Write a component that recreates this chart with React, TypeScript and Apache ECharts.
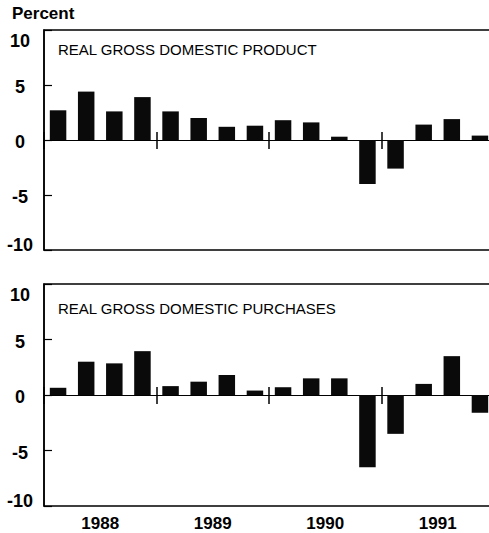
import React, { useEffect, useRef } from 'react';
import * as echarts from 'echarts';

const FONT = '"Liberation Sans", Arial, Helvetica, sans-serif';

const quarters = [
  '1988Q1', '1988Q2', '1988Q3', '1988Q4',
  '1989Q1', '1989Q2', '1989Q3', '1989Q4',
  '1990Q1', '1990Q2', '1990Q3', '1990Q4',
  '1991Q1', '1991Q2', '1991Q3', '1991Q4',
];
const years = ['1988', '1989', '1990', '1991'];
const gdp = [2.7, 4.4, 2.6, 3.9, 2.6, 2.0, 1.2, 1.3, 1.8, 1.6, 0.3, -4.0, -2.6, 1.4, 1.9, 0.4];
const purchases = [0.65, 3.0, 2.85, 3.95, 0.8, 1.2, 1.8, 0.4, 0.7, 1.5, 1.5, -6.5, -3.5, 1.0, 3.5, -1.6];
const panelTitles = ['REAL GROSS DOMESTIC PRODUCT', 'REAL GROSS DOMESTIC PURCHASES'];
const yMin = -10;
const yMax = 10;
const yStep = 5;

const base = { fontSize: 18, fontWeight: 'bold' as const, fontFamily: FONT, color: '#000' };

function yAxisFor(gridIndex: number) {
  return {
    type: 'value',
    gridIndex,
    min: yMin,
    max: yMax,
    interval: yStep,
    axisLine: { show: true, lineStyle: { color: '#000', width: 1.5 } },
    axisTick: { show: true, inside: true, length: 8, lineStyle: { color: '#000', width: 1.2 } },
    splitLine: { show: false },
    axisLabel: {
      margin: 24,
      align: 'center',
      formatter: (v: number) => (v === yMax ? `{hi|${v}}` : v === yMin ? `{lo|${v}}` : `{mid|${v}}`),
      rich: {
        hi: { ...base, padding: [22, 0, 0, 0] },
        lo: { ...base, padding: [0, 0, 10, 0] },
        mid: { ...base, padding: [4, 0, 0, 0] },
      },
    },
  };
}

function xAxesFor(gridIndex: number, withLabels: boolean) {
  const onZeroLine = (width: number) => ({
    show: true,
    onZero: true,
    onZeroAxisIndex: gridIndex,
    lineStyle: { color: '#000', width },
  });
  const axes: any[] = [
    {
      type: 'category',
      gridIndex,
      position: 'bottom',
      data: quarters,
      axisLine: onZeroLine(1),
      axisTick: { show: false },
      axisLabel: { show: false },
      splitLine: { show: false },
    },
    {
      type: 'category',
      gridIndex,
      position: 'bottom',
      data: years,
      axisLine: onZeroLine(1),
      axisTick: { show: true, inside: true, length: 8, lineStyle: { color: '#000', width: 1.5 } },
      axisLabel: { show: false },
      splitLine: { show: false },
    },
    {
      type: 'category',
      gridIndex,
      position: 'bottom',
      data: years,
      axisLine: onZeroLine(1),
      axisTick: { show: true, inside: false, length: 9, lineStyle: { color: '#000', width: 1.5 } },
      axisLabel: { show: false },
      splitLine: { show: false },
    },
  ];
  if (withLabels) {
    axes.push({
      type: 'category',
      gridIndex,
      data: years,
      position: 'bottom',
      axisLine: { show: false, onZero: false },
      axisTick: { show: false },
      axisLabel: { show: true, margin: 9, ...base, fontSize: 17 },
      splitLine: { show: false },
    });
  }
  return axes;
}

export default function App() {
  const ref = useRef<HTMLDivElement>(null);
  useEffect(() => {
    const chart = echarts.init(ref.current!, null, { renderer: 'svg' });
    const gridCommon = { left: 44, width: 450, show: true, borderColor: '#000', borderWidth: 1.5, backgroundColor: 'transparent' };
    const xTop = xAxesFor(0, false);
    const xBottom = xAxesFor(1, true);
    chart.setOption({
      animation: false,
      backgroundColor: '#fff',
      grid: [
        { ...gridCommon, top: 30, height: 220 },
        { ...gridCommon, top: 284, height: 222 },
      ],
      title: [
        { text: 'Percent', left: 12, top: 5, padding: 0, textStyle: { ...base, fontSize: 17 } },
        { text: panelTitles[0], left: 58, top: 42, padding: 0, textStyle: { fontSize: 15, fontWeight: 'normal', fontFamily: FONT, color: '#000' } },
        { text: panelTitles[1], left: 58, top: 301, padding: 0, textStyle: { fontSize: 15, fontWeight: 'normal', fontFamily: FONT, color: '#000' } },
      ],
      xAxis: [...xTop, ...xBottom],
      yAxis: [yAxisFor(0), yAxisFor(1)],
      series: [
        {
          type: 'bar',
          data: gdp,
          xAxisIndex: 0,
          yAxisIndex: 0,
          barWidth: 16.5,
          itemStyle: { color: '#0a0a0a' },
          z: 3,
        },
        {
          type: 'bar',
          data: purchases,
          xAxisIndex: xTop.length,
          yAxisIndex: 1,
          barWidth: 16.5,
          itemStyle: { color: '#0a0a0a' },
          z: 3,
        },
      ],
    });
    return () => chart.dispose();
  }, []);
  return (
    <div style={{ position: 'absolute', left: 0, top: 0, width: 489, height: 533, overflow: 'hidden', background: '#fff' }}>
      <div ref={ref} style={{ width: 500, height: 533 }} />
    </div>
  );
}
